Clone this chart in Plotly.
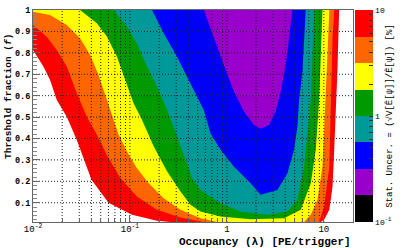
import math
import plotly.graph_objects as go

# Contour levels of the statistical uncertainty [%] (log-spaced, 4 per decade)
levels = [0.1, 0.178, 0.316, 0.562, 1.0, 1.78, 3.16, 5.62, 10.0]
band_colors = ["#000000", "#9900cc", "#0000ff", "#009999", "#009900", "#ffff00", "#ff6600", "#ff0000"]

# Boundaries (occupancy lambda, threshold fraction f) of the regions where uncertainty < level
lam_10 = [0.01, 0.01, 0.0128, 0.0150, 0.0176, 0.0223, 0.0283, 0.0332, 0.0401, 0.0601, 0.105, 0.190, 0.261,
          9.3, 10.07, 11.4, 12.3, 12.8, 13.3, 13.8, 14.4]
f_10 = [1.0, 0.813, 0.736, 0.673, 0.580, 0.502, 0.393, 0.308, 0.207, 0.100, 0.044, 0.016, 0.01,
        0.01, 0.020, 0.067, 0.176, 0.347, 0.502, 0.712, 1.0]

lam_562 = [0.01, 0.01, 0.0138, 0.0176, 0.0223, 0.0283, 0.0359, 0.0456, 0.0578, 0.0794, 0.118, 0.190, 0.332, 0.578,
           8.95, 10.07, 11.4, 11.8, 12.3, 12.8]
f_562 = [1.0, 0.930, 0.876, 0.813, 0.736, 0.611, 0.502, 0.417, 0.323, 0.215, 0.129, 0.067, 0.031, 0.01,
         0.01, 0.082, 0.269, 0.580, 0.868, 1.0]

lam_316 = [0.01, 0.01, 0.015, 0.0223, 0.0306, 0.0389, 0.0474, 0.0556, 0.0652, 0.0764, 0.0931, 0.118, 0.156,
           0.223, 0.332, 0.535, 0.794, 6.26, 7.34, 8.60, 9.68, 10.5, 10.9, 11.4]
f_316 = [1.0, 0.992, 0.977, 0.930, 0.868, 0.790, 0.697, 0.603, 0.502, 0.417, 0.339, 0.261, 0.191,
         0.121, 0.067, 0.028, 0.01, 0.01, 0.044, 0.114, 0.269, 0.580, 0.790, 1.0]

lam_178 = [0.0306, 0.0456, 0.0578, 0.0735, 0.0895, 0.109, 0.133, 0.176, 0.242, 0.332, 0.421, 0.535, 0.861,
           1.76, 3.89, 5.78, 7.34, 8.26, 8.95, 9.68]
f_178 = [1.0, 0.938, 0.876, 0.782, 0.673, 0.565, 0.487, 0.362, 0.246, 0.152, 0.090, 0.059, 0.036,
         0.023, 0.028, 0.067, 0.191, 0.347, 0.580, 1.0]

lam_100 = [0.0678, 0.0931, 0.118, 0.150, 0.190, 0.242, 0.294, 0.359, 0.438, 0.535, 0.861, 1.38, 2.61,
           4.21, 5.34, 6.26, 6.77, 7.34, 7.94]
f_100 = [1.0, 0.922, 0.844, 0.736, 0.642, 0.533, 0.432, 0.323, 0.215, 0.160, 0.098, 0.059, 0.044,
         0.059, 0.114, 0.269, 0.425, 0.580, 1.0]

lam_056 = [0.169, 0.223, 0.306, 0.389, 0.493, 0.578, 0.678, 0.861, 1.18, 1.76, 2.23, 3.32, 4.21, 4.93,
           5.34, 5.56, 6.01, 6.51]
f_056 = [1.0, 0.891, 0.782, 0.689, 0.596, 0.533, 0.425, 0.347, 0.269, 0.191, 0.137, 0.160, 0.238, 0.347,
         0.456, 0.580, 0.712, 1.0]

lam_032 = [0.578, 0.735, 0.931, 1.18, 1.50, 1.90, 2.23, 2.72, 3.18, 3.59, 4.05, 4.38, 4.74]
f_032 = [1.0, 0.868, 0.743, 0.619, 0.526, 0.463, 0.445, 0.463, 0.526, 0.619, 0.743, 0.868, 1.0]

regions = [
    (lam_10, f_10, band_colors[7]),
    (lam_562, f_562, band_colors[6]),
    (lam_316, f_316, band_colors[5]),
    (lam_178, f_178, band_colors[4]),
    (lam_100, f_100, band_colors[3]),
    (lam_056, f_056, band_colors[2]),
    (lam_032, f_032, band_colors[1]),
]

x_range = [0.01, 20.0]
y_range = [0.01, 1.0]
x_decades = [0.01, 0.1, 1, 10]
x_tick_text = ["10<sup>-2</sup>", "10<sup>-1</sup>", "1", "10"]
y_ticks = [0.1, 0.2, 0.3, 0.4, 0.5, 0.6, 0.7, 0.8, 0.9, 1.0]
y_tick_text = ["0.1", "0.2", "0.3", "0.4", "0.5", "0.6", "0.7", "0.8", "0.9", "1"]

MONO = "Liberation Mono"

fig = go.Figure()

for lam, f, col in regions:
    fig.add_trace(go.Scatter(x=lam, y=f, mode="lines", fill="toself", fillcolor=col,
                             line=dict(width=0, color=col), hoverinfo="skip", showlegend=False))

# grid lines (drawn over the coloured regions)
x_grid = [m * d for d in x_decades for m in range(1, 10) if x_range[0] <= m * d < x_range[1]]
x_minor = [v for v in x_grid if v not in x_decades] + [20]
gx, gy = [], []
for v in x_grid[1:]:
    gx += [v, v, None]
    gy += [y_range[0], y_range[1], None]
for v in y_ticks[:-1]:
    gx += [x_range[0], x_range[1], None]
    gy += [v, v, None]
fig.add_trace(go.Scatter(x=gx, y=gy, mode="lines", line=dict(color="#222222", width=1, dash="1px,2px"),
                         hoverinfo="skip", showlegend=False))

# colour bar
n = len(band_colors)
cscale = []
for i, c in enumerate(band_colors):
    cscale.append([i / n, c])
    cscale.append([(i + 1) / n, c])
cb_vals, cb_text = [], []
for d in [0.1, 1.0]:
    for m in range(1, 10):
        cb_vals.append(math.log10(m * d))
        cb_text.append({0.1: "10<sup>-1</sup>", 1.0: "1"}[d] if m == 1 else " ")
cb_vals.append(1.0)
cb_text.append("10")

fig.add_trace(go.Scatter(
    x=[1.0, 1.0], y=[0.5, 0.5], mode="markers", hoverinfo="skip", showlegend=False,
    marker=dict(size=0.1, opacity=0, color=[math.log10(levels[0]), math.log10(levels[-1])],
                cmin=math.log10(levels[0]), cmax=math.log10(levels[-1]), colorscale=cscale,
                showscale=True,
                colorbar=dict(x=1.006, xanchor="left", xpad=0, ypad=0, y=0.5, yanchor="middle",
                              len=1.0, lenmode="fraction", thickness=18, outlinewidth=0,
                              tickmode="array", tickvals=cb_vals, ticktext=cb_text,
                              ticks="inside", ticklen=4, tickcolor="#333333",
                              tickfont=dict(family=MONO, size=8, color="black"),
                              title=dict(text="Stat. Uncer. = (√V[Ê[ψ]]/Ê[ψ]) [%]", side="right",
                                         font=dict(family=MONO, size=9, color="black"))))))

fig.update_layout(
    width=415, height=248, autosize=False,
    margin=dict(l=33, r=62, t=10, b=26, autoexpand=False),
    paper_bgcolor="white", plot_bgcolor="white",
    showlegend=False, hovermode=False,
    xaxis=dict(type="log", range=[math.log10(x_range[0]), math.log10(x_range[1])],
               tickmode="array", tickvals=x_decades, ticktext=x_tick_text,
               ticks="inside", ticklen=7, tickcolor="#666666", showgrid=False, zeroline=False,
               showline=True, mirror=True, linecolor="#666666", linewidth=1,
               tickfont=dict(family=MONO, size=9, color="black"), ticklabelstandoff=-2,
               minor=dict(tickmode="array", tickvals=x_minor, ticks="inside", ticklen=4,
                          tickcolor="#666666", showgrid=False)),
    yaxis=dict(range=y_range, tickmode="array", tickvals=y_ticks, ticktext=y_tick_text,
               ticks="inside", ticklen=7, tickcolor="#666666", showgrid=False, zeroline=False,
               showline=True, mirror=True, linecolor="#666666", linewidth=1,
               tickfont=dict(family=MONO, size=8.5, color="black", weight="bold"),
               minor=dict(dtick=0.02, ticks="inside", ticklen=4, tickcolor="#888888", showgrid=False)),
    annotations=[
        dict(text="Threshold fraction (<i>f</i>)", xref="paper", yref="paper",
             x=-25 / 320, xanchor="center", y=1 - 87 / 212, yanchor="middle", textangle=-90,
             showarrow=False, font=dict(family=MONO, size=9.5, color="black", weight="bold")),
        dict(text="Occupancy (λ) [PE/trigger]", xref="paper", yref="paper",
             x=1.0, xanchor="right", y=-20 / 212, yanchor="middle",
             showarrow=False, font=dict(family=MONO, size=11, color="black", weight="bold")),
    ],
)

# remove the default page margin so the figure sits at the window's top-left corner
fig.write_html("out.html", config={"displayModeBar": False, "staticPlot": True},
               post_script="document.body.style.margin='0';")
